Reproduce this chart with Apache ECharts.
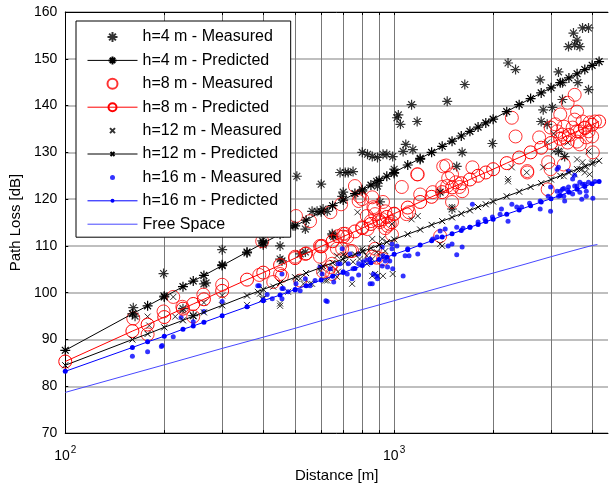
<!DOCTYPE html>
<html><head><meta charset="utf-8">
<script src="https://cdn.jsdelivr.net/npm/echarts@6/dist/echarts.min.js"></script>
<style>html,body{margin:0;padding:0;background:#fff}#c{width:609px;height:488px}</style>
</head><body><div id="c"></div>
<script>
// ---- data (distance [m], path loss [dB]) ----
const h4Measured = [[161,96.8],[163,95.0],[199,104.1],[200,99.3],[228,96.6],[245,95.1],[264,101.9],[268,102.1],[300,109.2],[300,106.0],[357,108.5],[397,111.1],[400,110.2],[400,110.8],[450,110.0],[456,106.8],[450,107.2],[518,108.3],[650,112.3],[537,108.7],[493,114.3],[537,113.6],[506,124.9],[600,123.2],[700,121.5],[685,125.7],[710,125.7],[725,125.7],[750,125.9],[800,130.0],[830,129.6],[858,129.1],[890,128.9],[925,129.6],[950,129.6],[990,129.1],[1000,126.4],[1000,125.5],[1065,130.2],[1140,130.6],[563,117.4],[583,117.4],[608,117.9],[626,117.4],[648,112.6],[655,112.0],[695,120.6],[800,121.7],[885,123.8],[890,122.8],[906,119.4],[1380,121.5],[1500,117.9],[1020,137.4],[1045,136.0],[1030,138.0],[1130,140.2],[1175,136.6],[1085,131.7],[1200,128.5],[1450,140.9],[1640,144.5],[1550,127.0],[1610,130.0],[1990,131.9],[2220,149.1],[2340,147.7],[2780,145.5],[3160,147.2],[3250,144.9],[3740,156.6],[3510,155.5],[3600,154.0],[3390,152.6],[3670,152.6],[3900,156.6],[3540,153.0],[3900,143.4],[3620,144.9],[3250,141.3],[3030,139.6],[2840,139.1],[2800,136.6],[2920,136.0],[3160,130.2],[3300,129.1]];
const h8Measured = [[161,94.5],[178,91.1],[199,96.0],[213,99.1],[227,97.0],[245,94.9],[263,99.6],[300,101.7],[389,103.8],[397,111.0],[429,102.3],[450,104.0],[456,103.6],[518,102.6],[500,107.7],[537,108.3],[604,110.0],[608,104.5],[648,104.0],[675,112.1],[700,112.6],[695,109.4],[735,108.9],[503,116.4],[555,115.3],[640,117.2],[690,118.9],[760,122.8],[785,120.6],[780,119.6],[858,120.4],[865,118.3],[875,116.8],[925,119.4],[920,115.7],[940,117.4],[985,115.1],[955,114.3],[1000,116.8],[858,107.7],[885,107.5],[925,107.2],[875,109.4],[640,105.5],[670,109.4],[595,110.0],[595,107.7],[630,104.7],[648,106.2],[710,112.6],[720,111.9],[745,108.9],[800,120.0],[826,116.4],[850,115.3],[870,118.0],[905,115.1],[940,113.8],[970,114.7],[985,112.4],[800,114.0],[830,113.6],[1055,122.6],[1090,116.8],[1110,117.2],[1180,125.3],[1200,121.0],[1310,121.5],[1400,122.6],[1450,122.8],[1410,127.0],[1460,124.5],[1500,125.3],[1500,119.4],[1540,123.6],[1580,122.6],[1610,121.7],[1730,126.8],[1380,112.1],[2540,125.7],[2940,127.9],[2990,126.4],[3280,127.4],[2930,122.1],[4020,130.0],[2280,137.4],[2340,133.4],[2760,133.2],[3540,142.3],[3370,140.6],[3600,138.7],[3200,138.1],[3540,137.0],[3490,135.3],[3740,136.6],[3930,136.4],[4080,136.6],[3800,135.3],[3670,134.5],[3900,134.5],[4000,133.4],[3840,133.2],[3600,132.3],[3670,131.7],[3090,136.0],[3280,135.5],[2990,135.3],[3130,134.5],[3250,133.8],[3300,133.2],[3370,132.1],[1440,127.2],[1175,125.3],[2540,126.0]];
const h12Measured = [[178,94.9],[180,93.0],[199,99.4],[213,99.1],[216,94.9],[227,96.2],[264,97.9],[300,99.4],[357,97.4],[391,99.8],[397,98.7],[450,97.2],[476,100.2],[429,101.3],[506,103.0],[518,103.0],[555,101.9],[626,102.6],[608,105.7],[675,104.5],[670,107.9],[700,108.1],[750,106.6],[745,101.9],[385,100.2],[400,98.7],[450,97.7],[563,101.9],[617,102.6],[670,103.4],[710,107.9],[710,106.6],[800,109.4],[805,108.9],[826,107.9],[774,117.2],[858,111.5],[920,111.5],[925,103.6],[990,104.0],[985,114.7],[530,101.9],[595,104.7],[640,105.1],[858,103.6],[875,104.0],[890,103.6],[785,107.2],[826,106.2],[858,107.2],[885,108.7],[940,108.9],[920,107.7],[1130,115.7],[1180,116.4],[1380,110.4],[1400,110.0],[1380,121.5],[1500,118.3],[2220,123.8],[2280,126.8],[3600,128.5],[3740,127.9],[3840,127.0],[4020,127.9],[3670,126.4],[3800,125.7],[3930,125.3],[3540,125.3],[3300,129.1],[3200,130.2],[3370,132.1],[3060,130.2],[2840,126.8],[2530,125.7],[2220,124.3],[2920,132.1],[3060,134.0],[3900,130.2],[3720,126.4],[3280,124.9]];
const h16Measured = [[160,86.4],[178,87.4],[196,88.5],[197,88.7],[213,90.6],[225,94.7],[245,93.8],[264,96.0],[300,98.1],[389,101.5],[400,98.5],[411,99.6],[426,98.7],[456,100.9],[456,104.0],[456,98.7],[476,100.2],[500,100.6],[518,100.4],[537,103.0],[555,101.5],[620,98.3],[640,105.1],[675,106.2],[695,109.4],[700,104.5],[720,104.0],[745,103.0],[750,105.1],[780,108.3],[735,108.3],[385,101.5],[460,100.9],[503,101.9],[575,102.6],[626,98.1],[595,105.5],[604,104.0],[685,106.2],[725,106.2],[780,106.2],[805,106.6],[826,107.0],[845,107.2],[858,101.9],[865,104.0],[885,103.6],[890,103.0],[920,109.8],[925,107.9],[940,106.8],[920,105.7],[955,105.5],[985,110.4],[985,109.4],[970,106.8],[990,105.1],[655,102.3],[780,103.8],[845,101.9],[1065,103.6],[1020,110.0],[1080,107.9],[1110,107.9],[1180,108.3],[1100,109.4],[1310,111.5],[1350,111.9],[1380,113.2],[1430,113.6],[1460,110.0],[1500,110.4],[1550,108.1],[1610,109.8],[1550,114.0],[1620,113.8],[1700,114.0],[1800,115.1],[1890,115.7],[1990,116.2],[2100,116.8],[2220,115.3],[1730,118.9],[2120,117.9],[2280,118.9],[2360,118.3],[2440,118.3],[2580,119.1],[2780,119.6],[2940,120.6],[3160,120.6],[2780,117.9],[2990,117.4],[3200,121.7],[3280,122.3],[3370,121.9],[3540,122.8],[3670,123.6],[3800,123.2],[3900,123.6],[4080,123.8],[3300,119.6],[3720,120.0],[3840,120.6],[4020,120.2],[3160,126.8],[3540,125.1],[3490,124.3],[3130,126.4],[3390,126.0],[2990,122.6],[3130,121.7],[3250,122.1],[3390,122.6],[3600,122.8],[3740,123.2],[3840,121.7],[3670,121.5],[3490,121.1],[3280,120.6]];

const predDist = [100,160,178,200,228,245,264,300,357,400,450,500,540,600,650,700,760,800,850,900,950,1000,1100,1200,1300,1400,1500,1600,1700,1800,1900,2000,2200,2400,2600,2800,3000,3200,3400,3600,3800,4000,4200];
const h4Pred  = [87.7,95.5,97.2,99.1,101.3,102.5,103.7,105.8,108.7,110.6,112.5,114.3,115.5,117.3,118.6,119.8,121.2,122.0,123.0,124.0,124.9,125.7,127.3,128.7,130.0,131.3,132.4,133.5,134.5,135.4,136.3,137.1,138.7,140.2,141.5,142.7,143.8,144.9,145.9,146.8,147.7,148.6,149.4];
const h8Pred  = [85.3,91.8,93.2,94.8,96.6,97.6,98.6,100.4,102.8,104.3,105.9,107.4,108.4,109.9,111.0,112.0,113.1,113.8,114.7,115.5,116.2,116.9,118.2,119.4,120.5,121.5,122.5,123.4,124.2,125.0,125.7,126.4,127.7,128.9,130.0,131.0,132.0,132.9,133.7,134.5,135.2,135.9,136.6];
const h12Pred = [84.5,90.0,91.2,92.6,94.1,95.0,95.8,97.3,99.4,100.7,102.1,103.3,104.2,105.4,106.4,107.2,108.2,108.8,109.5,110.2,110.8,111.4,112.5,113.5,114.5,115.3,116.1,116.9,117.6,118.3,118.9,119.5,120.6,121.6,122.6,123.4,124.2,125.0,125.7,126.4,127.0,127.6,128.2];
const h16Pred = [83.2,88.3,89.5,90.7,92.2,92.9,93.7,95.1,97.0,98.3,99.5,100.7,101.5,102.7,103.5,104.3,105.2,105.8,106.4,107.1,107.6,108.2,109.2,110.2,111.1,111.9,112.6,113.3,114.0,114.6,115.2,115.7,116.8,117.7,118.6,119.4,120.1,120.8,121.5,122.1,122.7,123.3,123.8];
const freeDist = [100,200,300,400,500,600,700,800,900,1000,1200,1500,2000,2500,3000,3500,4000,4150];
const freeSpace = [78.7,84.6,88.1,90.5,92.4,94.0,95.3,96.4,97.4,98.3,99.9,101.8,104.2,106.1,107.7,109.0,110.1,110.3];

const xTickValues = [100,200,300,400,500,600,700,800,900,1000,2000,3000,4000];
const xLabelValues = [100,1000];
const seriesNames = ['h=4 m - Measured','h=4 m - Predicted','h=8 m - Measured','h=8 m - Predicted','h=12 m - Measured','h=12 m - Predicted','h=16 m - Measured','h=16 m - Predicted','Free Space'];

// ---- chart ----
const zip = (xs, ys) => xs.map((x, i) => [x, ys[i]]);
const STAR = 'path://M5,0 L5,10 M0,5 L10,5 M1.6,1.6 L8.4,8.4 M8.4,1.6 L1.6,8.4';
// padded symbols: the extra move-to points widen the box so the mark is half the symbol size
const CROSS = 'path://M-5,-5 M15,15 M0,0 L10,10 M10,0 L0,10';
const DOT = 'path://M-5,-5 M15,15 M0,5 A5,5 0 1,1 10,5 A5,5 0 1,1 0,5 Z';
const FONT = 'Liberation Sans, Arial, sans-serif';

const starStyle = {color: 'rgba(0,0,0,0)', borderColor: '#000', borderWidth: 1.2};
const circStyle = {color: 'rgba(0,0,0,0)', borderColor: '#ff0000', borderWidth: 1};
const crossStyle = {color: 'rgba(0,0,0,0)', borderColor: '#000', borderWidth: 1};
const dotStyle = {color: '#0000ff'};

const legendData = seriesNames.map(n => n === 'Free Space' ? {name: n, itemStyle: {opacity: 0}} : {name: n});

const chart = echarts.init(document.getElementById('c'), null, {renderer: 'canvas'});
chart.setOption({
  animation: false,
  backgroundColor: '#fff',
  grid: {left: 65, right: 1, top: 12, bottom: 53, containLabel: false},
  legend: {
    orient: 'vertical', left: 76, top: 21,
    itemWidth: 50, itemHeight: 10, itemGap: 5.4,
    padding: [7, 9, 4, 11],
    backgroundColor: '#fff', borderColor: '#000', borderWidth: 1,
    lineStyle: {width: 1},
    textStyle: {fontFamily: FONT, fontSize: 16, color: '#000', lineHeight: 18},
    data: legendData
  },
  xAxis: [{
    type: 'log', logBase: 10, min: 100, max: 4470,
    name: 'Distance [m]', nameLocation: 'middle', nameGap: 28,
    nameTextStyle: {fontFamily: FONT, fontSize: 15, color: '#000'},
    axisLine: {show: true, onZero: false, lineStyle: {color: '#000', width: 1}},
    axisTick: {show: true, inside: true, length: 3, customValues: xTickValues, lineStyle: {color: '#000'}},
    minorTick: {show: false},
    splitLine: {show: true, lineStyle: {color: '#777', width: 1}},
    axisLabel: {
      customValues: xLabelValues, margin: 12, color: '#000',
      formatter: v => '{b|10}{s|' + Math.round(Math.log10(v)) + '}',
      rich: {b: {fontFamily: FONT, fontSize: 14, color: '#000', lineHeight: 18, verticalAlign: 'bottom'},
             s: {fontFamily: FONT, fontSize: 10, color: '#000', lineHeight: 18, verticalAlign: 'top', padding: [0,0,0,1]}}
    }
  }, {
    type: 'log', logBase: 10, min: 100, max: 4470, position: 'top',
    axisLine: {show: true, onZero: false, lineStyle: {color: '#000', width: 1}},
    axisTick: {show: true, inside: true, length: 3, customValues: xTickValues, lineStyle: {color: '#000'}},
    splitLine: {show: false}, axisLabel: {show: false}
  }],
  yAxis: {
    type: 'value', min: 70, max: 160, interval: 10,
    name: 'Path Loss [dB]', nameLocation: 'middle', nameGap: 38,
    nameTextStyle: {fontFamily: FONT, fontSize: 15, color: '#000'},
    axisLine: {show: true, lineStyle: {color: '#000', width: 1}},
    axisTick: {show: true, inside: true, length: 3, lineStyle: {color: '#000'}},
    splitLine: {show: true, lineStyle: {color: '#aaa', width: 1.5}},
    axisLabel: {fontFamily: FONT, fontSize: 14, color: '#000', margin: 8}
  },
  series: [
    {name: seriesNames[0], type: 'scatter', data: h4Measured, symbol: STAR, symbolSize: 10, itemStyle: starStyle},
    {name: seriesNames[1], type: 'line', data: zip(predDist, h4Pred), symbol: STAR, symbolSize: 10, showSymbol: true,
     itemStyle: starStyle, lineStyle: {color: '#000', width: 1}},
    {name: seriesNames[2], type: 'scatter', data: h8Measured, symbol: 'circle', symbolSize: 13, itemStyle: circStyle},
    {name: seriesNames[3], type: 'line', data: zip(predDist, h8Pred), symbol: 'circle', symbolSize: 13, showSymbol: true,
     itemStyle: circStyle, lineStyle: {color: '#ff0000', width: 1}},
    {name: seriesNames[4], type: 'scatter', data: h12Measured, symbol: CROSS, symbolSize: 12, itemStyle: crossStyle},
    {name: seriesNames[5], type: 'line', data: zip(predDist, h12Pred), symbol: CROSS, symbolSize: 12, showSymbol: true,
     itemStyle: crossStyle, lineStyle: {color: '#000', width: 1}},
    {name: seriesNames[6], type: 'scatter', data: h16Measured, symbol: DOT, symbolSize: 10, itemStyle: dotStyle},
    {name: seriesNames[7], type: 'line', data: zip(predDist, h16Pred), symbol: DOT, symbolSize: 10, showSymbol: true,
     itemStyle: dotStyle, lineStyle: {color: '#0000ff', width: 1}},
    {name: seriesNames[8], type: 'line', data: zip(freeDist, freeSpace), symbol: 'none', showSymbol: false,
     itemStyle: {color: '#4848ff'}, lineStyle: {color: '#4848ff', width: 1}}
  ]
});
</script></body></html>
